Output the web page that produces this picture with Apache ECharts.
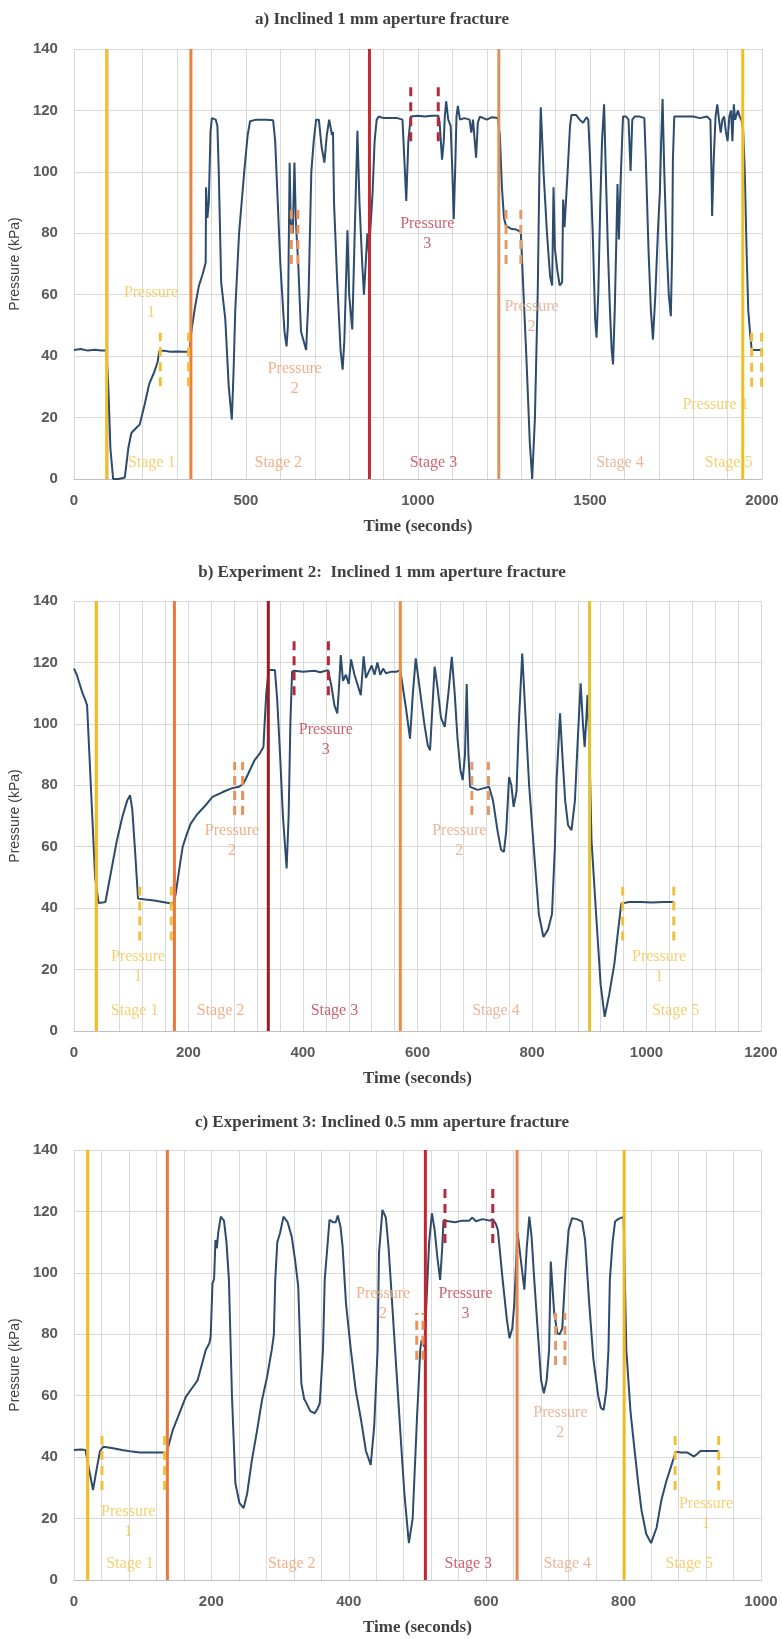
<!DOCTYPE html>
<html><head><meta charset="utf-8">
<script src="https://cdn.jsdelivr.net/npm/echarts@6/dist/echarts.min.js"></script>
<style>html,body{margin:0;padding:0;background:#fff}#c{width:782px;height:1639px}</style>
</head><body><div id="c"></div>
<script>
// ---------- Panel a ----------
const aCurve = [[0,42],[20,42.3],[40,41.8],[60,42.1],[80,41.8],[94,41.8],[100,30],[106,10],[114,0],[130,0],[148,0.5],[158,10],[167,15],[180,16.5],[191,17.7],[205,24],[219,31],[234,35],[243,38],[248,41.6],[260,41.8],[280,41.4],[300,41.5],[320,41.4],[336,41.4],[340,47],[352,56],[363,62.8],[375,67],[383,70.5],[384,95],[388,85],[392,90],[397,113],[401,117.5],[412,117],[417,115],[421,100],[428,64],[440,52],[450,30],[459,19.3],[464,35],[469,55],[480,80],[495,100],[505,112],[512,116.5],[530,117],[560,117],[579,116.8],[585,110],[600,70],[612,48],[618,43.2],[622,50],[627,103],[630,84],[636,80],[641,103],[645,84],[652,70],[660,48],[675,42],[682,60],[690,100],[697,110],[704,117],[712,117],[720,108],[728,103],[735,112],[742,117],[747,117],[750,112],[753,113],[756,90],[765,65],[775,42],[781,35.6],[786,45],[795,81],[800,60],[809,48.7],[815,75],[824,113.4],[830,90],[838,70],[843,60],[848,70],[853,80],[858,73],[862,82],[868,93],[874,110],[880,117],[886,118],[900,117.5],[920,117.5],[940,117.5],[955,117],[960,105],[966,90.5],[972,110],[979,118],[1000,118.3],[1020,118],[1040,118.3],[1059,118.3],[1063,116],[1070,104],[1075,110],[1078,118],[1082,123],[1088,117],[1095,115],[1100,100],[1104,84.6],[1108,100],[1112,118],[1116,121.5],[1122,117],[1135,117.5],[1150,117],[1155,112.8],[1160,117],[1165,110],[1169,104.6],[1174,116],[1180,118],[1200,117],[1215,117.8],[1232,117.5],[1238,112],[1244,95],[1250,85],[1256,82.4],[1270,81.5],[1285,81.2],[1299,80.5],[1305,65],[1315,40],[1325,12],[1332,0],[1340,20],[1348,60],[1353,100],[1357,121],[1365,100],[1375,80],[1384,66],[1390,63],[1394,95],[1398,75],[1405,68],[1412,63],[1419,64],[1422,91],[1426,82],[1435,100],[1442,115],[1446,118.5],[1460,118.5],[1470,117],[1480,116],[1490,117.8],[1495,117],[1500,105],[1508,80],[1515,52],[1519,46],[1524,60],[1530,90],[1535,110],[1541,122],[1546,100],[1552,75],[1558,55],[1563,42],[1567,37.3],[1572,55],[1577,80],[1580,96],[1584,78],[1590,100],[1596,118],[1605,118],[1612,117],[1618,100.3],[1623,117],[1630,118],[1645,118],[1658,117.5],[1662,105],[1670,75],[1677,55],[1683,45.4],[1690,60],[1698,82],[1703,93],[1707,110],[1711,123.7],[1716,100],[1722,78],[1729,60],[1735,53],[1739,75],[1741,104],[1745,118],[1760,118],[1780,118],[1800,118],[1820,117.5],[1840,118],[1850,117],[1853,100],[1855,85.6],[1860,105],[1865,118],[1870,122],[1875,117],[1880,112.8],[1885,117],[1890,118],[1895,113],[1900,110],[1905,118],[1910,120],[1914,110],[1918,122],[1922,117],[1930,120],[1935,118],[1940,117],[1945,114],[1950,100],[1955,75],[1960,55],[1965,48],[1970,42],[1985,42],[2000,42]];
const aStageT = [95, 340, 859, 1235, 1944];
const aDashT  = [251, 333, 632, 651, 979, 1059, 1256, 1299, 1970, 1999];
const aDashLo = [30.2, 30.2, 70, 70, 110, 110, 70, 70, 30, 30];
const aDashHi = [47.6, 47.6, 89, 89, 128, 128, 88, 88, 47.6, 47.6];
const aDashStage = [1, 1, 2, 2, 3, 3, 4, 4, 5, 5];
const aNoteText = ['Pressure\n1', 'Stage 1', 'Pressure\n2', 'Stage 2', 'Pressure\n3', 'Stage 3', 'Pressure\n2', 'Stage 4', 'Pressure 1', 'Stage 5'];
const aNoteT = [224, 226, 642, 594, 1027, 1045, 1330, 1587, 1865, 1903];
const aNoteP = [57.5, 5.2, 32.7, 5.2, 79.7, 5.2, 52.8, 5.2, 24.2, 5.2];
const aNoteStage = [1, 1, 2, 2, 3, 3, 4, 4, 5, 5];

// ---------- Panel b ----------
const bCurve = [[0,118],[5,116],[10,113],[15,110],[20,107.7],[23,106],[27,90],[32,70],[37,50],[43,41.7],[50,41.8],[55,42],[65,52],[75,62],[85,70],[93,75],[98,76.8],[102,72],[107,58],[112,43.1],[125,42.8],[140,42.5],[155,42],[170,41.5],[175,42],[178,45],[185,54],[190,60],[197,64],[204,67.5],[215,70.5],[230,73.5],[242,76.2],[260,77.8],[275,79],[288,79.5],[296,80.5],[305,84],[315,88],[325,90.5],[331,92.5],[333,100],[336,110],[340,117.5],[351,117.5],[355,108],[360,90],[365,70],[371.5,52.9],[375,70],[378,100],[381,117],[385,117.3],[400,117],[420,117.3],[430,116.8],[444,117.5],[450,112],[455,106],[460,103.4],[463,112],[466,122.4],[470,114],[475,116],[480,113],[484,121],[490,116],[495,113],[501,109.3],[506,122],[510,115],[515,117],[520,119],[525,116],[530,120],[535,116],[540,118],[545,116.5],[555,117],[564,117],[570,117.5],[573,117.5],[580,105],[587,95.2],[592,110],[597,121.3],[605,110],[612,100],[618,93],[622,91.4],[626,105],[630,118.6],[635,112],[641,102],[647.6,99],[654,110],[660,121.8],[665,110],[670,95],[675,85],[679,81.7],[683,90],[686,113],[689,90],[692,79.5],[705,78.5],[715,79],[725,79.5],[732,75],[740,65],[746,59],[751,58.3],[755,65],[760,82.7],[764,80],[768,73],[773,78],[777,100],[783,122.9],[788,105],[795,80],[805,55],[812,38],[820,30.6],[828,33],[835,38.2],[840,60],[843,81.7],[849,103.4],[853,90],[858,75],[863,67],[869,65.4],[875,75],[880,95],[885,113.2],[889,100],[892,92.5],[895,102],[897,109.4],[900,95],[904,62],[912,38],[920,15],[927,4.6],[935,12],[944,22],[950,32],[956,41.5],[970,42],[990,42],[1010,41.8],[1030,42],[1048,42]];
const bStageT = [39, 175.5, 339.5, 570, 900.6];
const bDashT  = [115, 170, 280.7, 294.6, 384.5, 444.4, 695, 724, 958.5, 1047.7];
const bDashLo = [29.5, 29.5, 70.3, 70.3, 109.3, 109.3, 70.3, 70.3, 29.5, 29.5];
const bDashHi = [47, 47, 87.6, 87.6, 127.8, 127.8, 87.6, 87.6, 47, 47];
const bDashStage = [1, 1, 2, 2, 3, 3, 4, 4, 5, 5];
const bNoteText = ['Pressure\n1', 'Stage 1', 'Pressure\n2', 'Stage 2', 'Pressure\n3', 'Stage 3', 'Pressure\n2', 'Stage 4', 'Pressure\n1', 'Stage 5'];
const bNoteT = [112, 106, 276, 256, 440, 455, 673, 737, 1022, 1051];
const bNoteP = [21, 6.7, 61.8, 6.7, 94.8, 6.7, 61.8, 6.7, 21, 6.7];
const bNoteStage = [1, 1, 2, 2, 3, 3, 4, 4, 5, 5];

// ---------- Panel c ----------
const cCurve = [[0,42.3],[10,42.5],[16.8,42.3],[22,36],[27.8,29.3],[33,36],[38,42],[43,43.4],[55,43],[70,42.3],[85,41.8],[96,41.5],[115,41.5],[134.5,41.5],[138,44],[144,48.9],[153,54],[163,59.7],[172,62.5],[180,65],[186,70],[192,75],[197,77],[199,79.2],[201.7,96.6],[204,98],[206,110.7],[208,108],[210,113],[213.7,118.3],[218.4,117],[222,110],[225.6,97.7],[230,60],[235,31.5],[241,25],[247,23.4],[252,28],[259,39],[266,48],[273.8,58.6],[281,66],[288,75],[291,80],[293,97.7],[296,110],[300,113],[305,118.3],[311,116.5],[317,111.8],[322,104],[326.5,95.5],[331,64],[335,59],[338.6,57.5],[344,55],[350.6,54.3],[355,56],[357.8,57.5],[362.5,75],[365,97.7],[368,106],[372,117.3],[377,116.5],[381,116.5],[384,118.7],[388,115],[391,108.6],[396,90],[403,75],[410,62],[418,52],[425,42],[432,37.5],[437,50],[442,75],[444,106.4],[449,120.5],[454,118],[458,108],[461,97.7],[466,80],[470.6,64],[476,45],[481,28],[487.5,12],[493,20],[499.4,53.2],[502,65],[504,75],[506,78],[510,76],[513,90],[517,110],[521,119.4],[525,114],[529,105],[533,97.7],[536,108],[537.8,117],[545,116.8],[555,116.5],[565,117],[575,117],[580,118],[585,116.8],[595,117.5],[605,117],[609.5,117.5],[614,116],[617,114],[624,97.7],[630,85],[634,78.7],[638,82],[641,90],[645.5,113.5],[650,105],[655.6,94.5],[659,108],[662.8,118.3],[666,112],[670,97.7],[676,78],[680,65],[684,60.8],[688,65],[691.6,75],[694,103.7],[699,87],[703.6,80.4],[707,80],[710.8,82],[715.5,101],[720,114],[725,117.8],[732,117.5],[739.6,116.7],[744,110.7],[750,90],[756,72],[763,60],[767,56],[771,55.4],[775,62],[778,75],[780,97.7],[784,110],[787.6,116.7],[792,117.5],[797,118],[800,118],[804,75],[810,55],[816,42.3],[821,32],[826,22.8],[833,15],[840,12],[848,17],[855,26],[862,32],[869,36.9],[876,41.8],[883,41.5],[893,41.5],[902.5,40.2],[907,41],[912,42],[925,42],[938.5,42]];
const cStageT = [20, 136, 511.5, 645, 800.8];
const cDashT  = [40.8, 132, 499, 508, 540, 609.6, 701, 714.6, 875, 938.5];
const cDashLo = [29.3, 29.3, 71.7, 71.7, 109.7, 109.7, 70, 70, 29.3, 29.3];
const cDashHi = [47, 47, 86.9, 86.9, 127.6, 127.6, 87, 87, 47, 47];
const cDashStage = [1, 1, 2, 2, 3, 3, 4, 4, 5, 5];
const cNoteText = ['Pressure\n1', 'Stage 1', 'Pressure\n2', 'Stage 2', 'Pressure\n3', 'Stage 3', 'Pressure\n2', 'Stage 4', 'Pressure\n1', 'Stage 5'];
const cNoteT = [79, 81.6, 450, 317, 570, 574, 708, 718, 920, 895.6];
const cNoteP = [19, 5.4, 90, 5.4, 90, 5.4, 51.3, 5.4, 21.7, 5.4];
const cNoteStage = [1, 1, 2, 2, 3, 3, 4, 4, 5, 5];

// ---------- styles ----------
const lineColorsA = ['#F5BE2A', '#EE7F3A', '#C42A32', '#D8935E', '#F2BE22'];
const lineColorsB = ['#F5B820', '#EC7640', '#9A1E1E', '#F08A3C', '#E6C22E'];
const lineColorsC = ['#F5B820', '#E8783E', '#C8232C', '#E8854A', '#F2B824'];
const textColor = {1:'#F2C64E', 2:'#EE9C6C', 3:'#C23B4E', 4:'#E5A585', 5:'#F2C64E'};
const dashColor = {1:'#F0C03A', 2:'#E8925A', 3:'#B8283A', 4:'#E39A68', 5:'#F0C03A'};
const curveColor = '#2D4B6C';
const gridColor = '#D9D9D9';

const grids = [
  {left: 67, top: 49, width: 695, height: 430},
  {left: 67, top: 601, width: 694, height: 430},
  {left: 67, top: 1150, width: 694, height: 430}
];
const xMax = [2000, 1200, 1000];
const xInt = [500, 200, 200];
const titles = ['a) Inclined 1 mm aperture fracture', 'b) Experiment 2:  Inclined 1 mm aperture fracture', 'c) Experiment 3: Inclined 0.5 mm aperture fracture'];
const titleTop = [11, 564, 1114];

function panelSeries(i, curve, stageT, lineColors, dashT, dashLo, dashHi, dashStage, noteText, noteT, noteP, noteStage) {
  const s = [];
  s.push({type: 'line', xAxisIndex: i, yAxisIndex: i, data: curve, showSymbol: false, symbol: 'none',
    lineStyle: {color: curveColor, width: 2}, z: 3, silent: true});
  stageT.forEach((t, k) => s.push({type: 'line', xAxisIndex: i, yAxisIndex: i, data: [[t, 0], [t, 140]],
    symbol: 'none', lineStyle: {color: lineColors[k], width: 3}, z: 4, silent: true}));
  dashT.forEach((t, k) => s.push({type: 'line', xAxisIndex: i, yAxisIndex: i, data: [[t, dashLo[k]], [t, dashHi[k]]],
    symbol: 'none', lineStyle: {color: dashColor[dashStage[k]], width: 3, type: [9, 6]}, z: 5, silent: true}));
  s.push({type: 'scatter', xAxisIndex: i, yAxisIndex: i, symbolSize: 0, z: 6, silent: true,
    data: noteText.map((txt, k) => ({name: txt, value: [noteT[k], noteP[k]],
      label: {color: textColor[noteStage[k]]}})),
    label: {show: true, position: 'inside', formatter: '{b}', fontFamily: 'Liberation Serif', fontSize: 16, lineHeight: 20}});
  return s;
}

const series = [].concat(
  panelSeries(0, aCurve, aStageT, lineColorsA, aDashT, aDashLo, aDashHi, aDashStage, aNoteText, aNoteT, aNoteP, aNoteStage),
  panelSeries(1, bCurve, bStageT, lineColorsB, bDashT, bDashLo, bDashHi, bDashStage, bNoteText, bNoteT, bNoteP, bNoteStage),
  panelSeries(2, cCurve, cStageT, lineColorsC, cDashT, cDashLo, cDashHi, cDashStage, cNoteText, cNoteT, cNoteP, cNoteStage)
);

const option = {
  animation: false,
  backgroundColor: '#ffffff',
  title: titles.map((t, i) => ({text: t, left: 382, top: titleTop[i], textAlign: 'center', padding: 0,
    textStyle: {fontFamily: 'Liberation Serif', fontWeight: 'bold', fontSize: 17, color: '#404040'}})),
  grid: grids,
  xAxis: grids.map((g, i) => ({
    type: 'value', gridIndex: i, min: 0, max: xMax[i], interval: xInt[i],
    name: 'Time (seconds)', nameLocation: 'middle', nameGap: 39,
    nameTextStyle: {fontFamily: 'Liberation Serif', fontWeight: 'bold', fontSize: 17, color: '#404040'},
    axisLine: {show: true, lineStyle: {color: '#BFBFBF'}},
    axisTick: {show: false},
    minorTick: {show: false, splitNumber: 5},
    minorSplitLine: {show: true, lineStyle: {color: gridColor, width: 1}},
    splitLine: {show: true, lineStyle: {color: gridColor, width: 1}},
    axisLabel: {margin: 14, fontFamily: 'Liberation Sans', fontWeight: 'bold', fontSize: 15, color: '#595959',
      formatter: v => String(v)}
  })),
  yAxis: grids.map((g, i) => ({
    type: 'value', gridIndex: i, min: 0, max: 140, interval: 20,
    name: 'Pressure (kPa)', nameLocation: 'middle', nameGap: 40,
    nameTextStyle: {fontFamily: 'Liberation Sans', fontSize: 14, color: '#404040'},
    axisLine: {show: false}, axisTick: {show: false},
    splitLine: {show: true, lineStyle: {color: gridColor, width: 1}},
    axisLabel: {margin: 16, fontFamily: 'Liberation Sans', fontWeight: 'bold', fontSize: 15, color: '#595959',
      formatter: v => String(v)}
  })),
  series: series
};
const chart = echarts.init(document.getElementById('c'), null, {renderer: 'canvas'});
chart.setOption(option);
</script></body></html>
